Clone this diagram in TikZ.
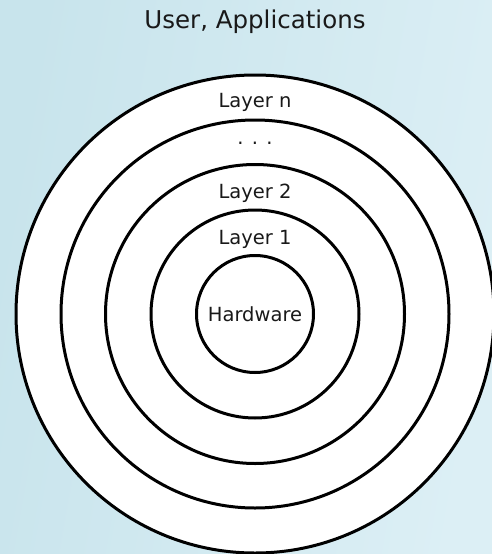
\documentclass[tikz,border=0pt]{standalone}
\usepackage{fontspec}
\setmainfont{DejaVu Sans}
\definecolor{bgleft}{RGB}{200,228,236}
\definecolor{bgright}{RGB}{220,239,245}
\tikzset{
  ring/.style={draw=black, line width=3pt, fill=white},
  lbl/.style={font=\fontsize{19.5}{22}\selectfont, text=black!90, inner sep=0pt, anchor=base},
  ttl/.style={font=\fontsize{24.5}{28}\selectfont, text=black!90, inner sep=0pt, anchor=base}
}
\begin{document}
\begin{tikzpicture}[x=1pt,y=-1pt]
  \useasboundingbox (0,0) rectangle (492,554);
  \shade[left color=bgleft, right color=bgright, shading angle=80] (0,0) rectangle (492,554);
  \begin{scope}
    \clip (0,0) rectangle (492,554);
    \coordinate (c) at (255,314);
    \draw[ring] (c) circle[radius=239pt];
    \draw[ring] (c) circle[radius=194pt];
    \draw[ring] (c) circle[radius=149.5pt];
    \draw[ring] (c) circle[radius=104pt];
    \draw[ring] (c) circle[radius=58.5pt];
  \end{scope}
  \node[ttl] (title) at (255,28) {User, Applications};
  \node[lbl] (ln) at (255,107) {Layer n};
  \node[lbl] (dots) at (255,144) {. . .};
  \node[lbl] (l2) at (255,198) {Layer 2};
  \node[lbl] (l1) at (255,244) {Layer 1};
  \node[lbl] (hw) at (255,321) {Hardware};
\end{tikzpicture}
\end{document}
